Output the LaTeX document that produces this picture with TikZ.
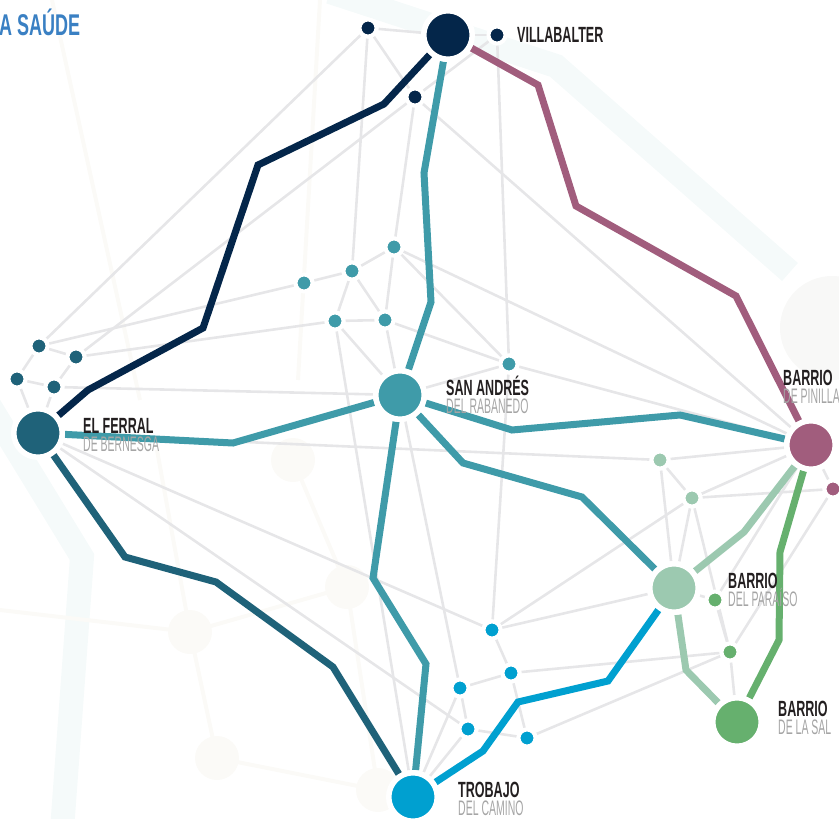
\documentclass[tikz,border=0pt]{standalone}
\usepackage{fontspec}
\newfontfamily\lblfont[FakeStretch=0.57]{Liberation Sans}
\newfontfamily\subfont[FakeStretch=0.50]{Liberation Sans}
\newfontfamily\ttlfont[FakeStretch=0.60]{Liberation Sans}
\definecolor{navy}{HTML}{04264A}
\definecolor{ferral}{HTML}{1F6279}
\definecolor{andres}{HTML}{3F9BA9}
\definecolor{pinilla}{HTML}{A15D7D}
\definecolor{paraiso}{HTML}{9CC9B0}
\definecolor{sal}{HTML}{66B06E}
\definecolor{trobajo}{HTML}{00A0D0}
\definecolor{linkgrey}{HTML}{E6E6E8}
\definecolor{titleblue}{HTML}{3A80C3}
\definecolor{labeldark}{HTML}{231F20}
\definecolor{subgrey}{HTML}{A5A5A5}
\definecolor{haze}{HTML}{F5FAFA}
\definecolor{faint}{HTML}{FBFAF7}
\definecolor{softgrey}{HTML}{F8F8F7}
\pgfdeclarelayer{bg}
\pgfdeclarelayer{net}
\pgfsetlayers{bg,net,main}
\tikzset{
  hub/.style={circle, inner sep=0pt, minimum size=48.5pt, draw=white, line width=5.5pt},
  stop/.style={circle, inner sep=0pt, minimum size=17pt, draw=white, line width=4pt},
  link/.style={draw=linkgrey, line width=2.6pt},
  route/.style={line width=7pt},
  hazeband/.style={draw=haze, line width=24pt},
  faintline/.style={draw=faint, line width=4pt},
  placename/.style={anchor=base west, inner sep=0pt, text height=15pt, text depth=0pt,
    text=labeldark, font=\lblfont\bfseries\fontsize{22}{22}\selectfont},
  placesub/.style={anchor=base west, inner sep=0pt, text height=14pt, text depth=0pt,
    text=subgrey, font=\subfont\fontsize{21}{21}\selectfont},
}
\begin{document}
\begin{tikzpicture}[x=1pt,y=-1pt]
\useasboundingbox (0,0) rectangle (839,819);

% soft background pattern
\begin{pgfonlayer}{bg}
  \draw[hazeband] (330,-8) -- (556,66) -- (790,272);
  \draw[hazeband] (-20,390) -- (82,557) -- (62,830);
  \fill[softgrey] (832,328) circle (52);
  \draw[faintline] (52,0) -- (140,400);
  \draw[faintline] (320,0) -- (298,380);
  \draw[faintline] (157,450) -- (190,632) -- (217,758) -- (378,790);
  \draw[faintline] (190,632) -- (347,587) -- (293,460);
  \draw[faintline] (0,610) -- (190,632);
  \draw[faintline] (347,587) -- (378,790);
  \foreach \p in {(293,460),(347,587),(190,632),(217,758),(378,790)}
    \fill[faint] \p circle (22);
\end{pgfonlayer}

% main stations
\node[hub, fill=navy]    (VB) at (448,35)  {};
\node[hub, fill=ferral]  (EF) at (38,433)  {};
\node[hub, fill=andres]  (SA) at (400,395) {};
\node[hub, fill=pinilla] (PI) at (811,445) {};
\node[hub, fill=paraiso] (PA) at (674,588) {};
\node[hub, fill=sal]     (SL) at (737,722) {};
\node[hub, fill=trobajo] (TR) at (413,797) {};

% secondary stops
\node[stop, fill=navy] (v1) at (368,28) {};
\node[stop, fill=navy] (v2) at (497,35) {};
\node[stop, fill=navy] (v3) at (415,97) {};
\node[stop, fill=ferral] (f1) at (39,346) {};
\node[stop, fill=ferral] (f2) at (76,357) {};
\node[stop, fill=ferral] (f3) at (17,379) {};
\node[stop, fill=ferral] (f4) at (54,387) {};
\node[stop, fill=andres] (s1) at (394,247) {};
\node[stop, fill=andres] (s2) at (352,271) {};
\node[stop, fill=andres] (s3) at (304,283) {};
\node[stop, fill=andres] (s4) at (335,321) {};
\node[stop, fill=andres] (s5) at (385,320) {};
\node[stop, fill=andres] (s6) at (509,364) {};
\node[stop, fill=paraiso] (p1) at (660,460) {};
\node[stop, fill=paraiso] (p2) at (692,498) {};
\node[stop, fill=pinilla] (m1) at (833,489) {};
\node[stop, fill=sal] (g1) at (715,600) {};
\node[stop, fill=sal] (g2) at (730,652) {};
\node[stop, fill=trobajo] (c1) at (492,630) {};
\node[stop, fill=trobajo] (c2) at (511,673) {};
\node[stop, fill=trobajo] (c3) at (460,688) {};
\node[stop, fill=trobajo] (c4) at (468,729) {};
\node[stop, fill=trobajo] (c5) at (527,738) {};

\begin{pgfonlayer}{net}
  % grey mesh
  \foreach \a/\b in {v1/VB, VB/v2, v1/s2, v1/v3, v1/f1, v3/f2, v2/v3, v2/s6, v3/s1, v3/PI,
      s3/s2, s2/s1, f1/s3, f2/s4, s4/s5, s2/s4, s2/s5, s1/s5, s1/s6, s1/PI, s5/s6, s6/PI,
      s4/SA, s5/SA, f4/SA, s4/TR, SA/c3, SA/s6,
      f1/f2, f1/f3, f3/f4, f2/f4, f3/EF, f4/EF,
      EF/p1, p1/PI, EF/c1, EF/c4, s6/c1,
      p1/p2, p1/PA, p2/PA, p2/g2, p2/PI, p2/m1, p2/c1, PA/c1, PA/g1, g1/g2, g2/m1, PI/m1, PI/g1,
      c2/g2, c5/g2, g2/SL,
      c1/c2, c2/c3, c2/c5, c3/c4, c4/c5, TR/c3, TR/c4}
    \draw[link] (\a) -- (\b);

  % lines
  \draw[route, navy] (VB) -- (384,104) -- (258,165) -- (203,328) -- (88,390) -- (EF);
  \draw[route, andres] (SA) -- (431,302) -- (424,173) -- (VB);
  \draw[route, andres] (SA) -- (233,443) -- (EF);
  \draw[route, andres] (SA) -- (512,430) -- (680,415) -- (PI);
  \draw[route, andres] (SA) -- (463,463) -- (582,497) -- (PA);
  \draw[route, andres] (SA) -- (373,578) -- (426,664) -- (TR);
  \draw[route, pinilla] (VB) -- (538,85) -- (576,206) -- (736,296) -- (PI);
  \draw[route, ferral] (EF) -- (125,557) -- (216,582) -- (333,667) -- (TR);
  \draw[route, paraiso] (PA) -- (744,532) -- (PI);
  \draw[route, paraiso] (PA) -- (686,670) -- (SL);
  \draw[route, sal] (PI) -- (780,552) -- (779,640) -- (SL);
  \draw[route, trobajo] (PA) -- (608,681) -- (518,702) -- (483,751) -- (TR);
\end{pgfonlayer}

% heading
\node[anchor=base west, inner sep=0pt, text=titleblue,
      font=\ttlfont\bfseries\fontsize{30}{30}\selectfont] (heading) at (-1,35) {A SAÚDE};

% station names
\node[placename] (nVB) at (517,42) {VILLABALTER};
\node[placename] (nEF) at (83,433) {EL FERRAL};
\node[placesub]  (sEF) at (83,451) {DE BERNESGA};
\node[placename] (nSA) at (446,395) {SAN ANDRÉS};
\node[placesub]  (sSA) at (446,413) {DEL RABANEDO};
\node[placename] (nPI) at (783,385) {BARRIO};
\node[placesub]  (sPI) at (783,403) {DE PINILLA};
\node[placename] (nPA) at (728,588) {BARRIO};
\node[placesub]  (sPA) at (728,606) {DEL PARAÍSO};
\node[placename] (nSL) at (778,716) {BARRIO};
\node[placesub]  (sSL) at (778,734) {DE LA SAL};
\node[placename] (nTR) at (458,797) {TROBAJO};
\node[placesub]  (sTR) at (458,815) {DEL CAMINO};
\end{tikzpicture}
\end{document}
